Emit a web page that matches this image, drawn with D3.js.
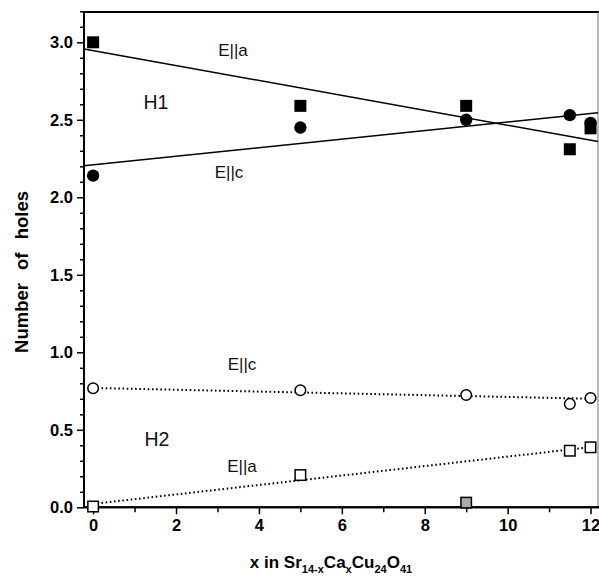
<!DOCTYPE html>
<html><head><meta charset="utf-8">
<script src="https://cdn.jsdelivr.net/npm/d3@7"></script>
<style>
html,body{margin:0;padding:0;background:#fff;}
svg{display:block;}
text{font-family:"Liberation Sans",Arial,Helvetica,sans-serif;}
</style></head>
<body><svg id="c" width="599" height="581"></svg>
<script>
// ---- data ----
const xVals = [0, 5, 9, 11.5, 12];
const h1EllA = [3.00, 2.59, 2.59, 2.31, 2.445];   // filled squares
const h1EllC = [2.14, 2.45, 2.50, 2.53, 2.48];    // filled circles
const h2EllC = [0.768, 0.755, 0.725, 0.667, 0.705]; // open circles
const h2EllAx = [0, 5, 11.5, 12];
const h2EllA = [0.005, 0.208, 0.365, 0.387];      // open squares
const greyX = [9];
const greyY = [0.03];                              // grey square
// linear fits [intercept, slope]
const fitH1A = [2.946, -0.0481];
const fitH1C = [2.210, 0.0276];
const fitH2C = [0.770, -0.0058];
const fitH2A = [0.022, 0.0305];
const xTicks = [0, 2, 4, 6, 8, 10, 12];
const yTicks = [0.0, 0.5, 1.0, 1.5, 2.0, 2.5, 3.0];

const svg = d3.select("#c");
const x = d3.scaleLinear().domain([-0.22, 12.18]).range([84, 598]);
const y = d3.scaleLinear().domain([0, 3.2]).range([507.3, 11.3]);

// frame: top thick, right thin grey
svg.append("line").attr("x1", 84).attr("x2", 599).attr("y1", 12).attr("y2", 12)
  .attr("stroke", "#000").attr("stroke-width", 2);
svg.append("line").attr("x1", 598).attr("x2", 598).attr("y1", 12).attr("y2", 507)
  .attr("stroke", "#777").attr("stroke-width", 1);

// axes
const yMinor = d3.range(0, 3.21, 0.1).filter(v => Math.abs(v*2 - Math.round(v*2)) > 1e-6);
const xMinor = [1, 3, 5, 7, 9, 11];
const gy = svg.append("g").attr("transform", "translate(84,0)");
gy.call(d3.axisLeft(y).tickValues(yTicks).tickFormat(d3.format(".1f")).tickSize(7).tickPadding(4));
gy.append("g").call(d3.axisLeft(y).tickValues(yMinor).tickFormat("").tickSize(4));
const gx = svg.append("g").attr("transform", "translate(0,507.3)");
gx.call(d3.axisBottom(x).tickValues(xTicks).tickFormat(d3.format("d")).tickSize(7).tickPadding(5));
gx.append("g").call(d3.axisBottom(x).tickValues(xMinor).tickFormat("").tickSize(5));
svg.selectAll(".domain").attr("stroke", "#000").attr("stroke-width", 2);
svg.selectAll(".tick line").attr("stroke", "#000").attr("stroke-width", 1.5);
svg.selectAll(".tick text").attr("font-size", 16.5).attr("font-weight", "bold")
  .attr("font-family", "Liberation Sans, Arial, sans-serif").attr("fill", "#000");
gx.selectAll("path.domain").attr("d", `M84,0H599`);
gy.selectAll("path.domain").attr("d", `M0,12V507.3`);

// fit lines
function fitLine(f, x0, x1, dotted) {
  svg.append("line")
    .attr("x1", x(x0)).attr("y1", y(f[0] + f[1]*x0))
    .attr("x2", x(x1)).attr("y2", y(f[0] + f[1]*x1))
    .attr("stroke", "#000")
    .attr("stroke-width", dotted ? 2 : 1.5)
    .attr("stroke-dasharray", dotted ? "1.6,2.6" : null);
}
fitLine(fitH1A, -0.22, 12.18, false);
fitLine(fitH1C, -0.22, 12.18, false);
fitLine(fitH2C, 0, 12, true);
fitLine(fitH2A, 0, 12, true);

// markers
const s = 12;
svg.append("g").selectAll("rect").data(xVals.map((v,i)=>[v,h1EllA[i]])).join("rect")
  .attr("x", d => x(d[0]) - s/2).attr("y", d => y(d[1]) - s/2)
  .attr("width", s).attr("height", s).attr("fill", "#000");
svg.append("g").selectAll("circle").data(xVals.map((v,i)=>[v,h1EllC[i]])).join("circle")
  .attr("cx", d => x(d[0])).attr("cy", d => y(d[1])).attr("r", 6.2).attr("fill", "#000");
svg.append("g").selectAll("circle").data(xVals.map((v,i)=>[v,h2EllC[i]])).join("circle")
  .attr("cx", d => x(d[0])).attr("cy", d => y(d[1])).attr("r", 5.3)
  .attr("fill", "#fff").attr("stroke", "#000").attr("stroke-width", 1.5);
const so = 10.5;
svg.append("g").selectAll("rect").data(h2EllAx.map((v,i)=>[v,h2EllA[i]])).join("rect")
  .attr("x", d => x(d[0]) - so/2).attr("y", d => y(d[1]) - so/2)
  .attr("width", so).attr("height", so)
  .attr("fill", "#fff").attr("stroke", "#000").attr("stroke-width", 1.5);
svg.append("g").selectAll("rect").data(greyX.map((v,i)=>[v,greyY[i]])).join("rect")
  .attr("x", d => x(d[0]) - so/2).attr("y", d => y(d[1]) - so/2)
  .attr("width", so).attr("height", so)
  .attr("fill", "#aaa").attr("stroke", "#000").attr("stroke-width", 1.5);

// annotations
const ann = [
  ["E||a", 233, 56, 17], ["H1", 156, 109, 19.5], ["E||c", 229, 178, 17],
  ["E||c", 242, 370, 17], ["H2", 157, 446, 19.5], ["E||a", 242, 472, 17]
];
svg.append("g").selectAll("text").data(ann).join("text")
  .attr("x", d => d[1]).attr("y", d => d[2]).attr("font-size", d => d[3])
  .attr("text-anchor", "middle").attr("fill", "#111").text(d => d[0]);

// axis titles
svg.append("text").attr("transform", "translate(28,272) rotate(-90)")
  .attr("text-anchor", "middle").attr("font-size", 18.5).attr("font-weight", "bold")
  .attr("word-spacing", 8)
  .text("Number of holes");
const xt = svg.append("text").attr("x", 331).attr("y", 568).attr("text-anchor", "middle")
  .attr("font-size", 17).attr("font-weight", "bold");
const parts = [["x in Sr",0],["14-x",1],["Ca",0],["x",1],["Cu",0],["24",1],["O",0],["41",1]];
parts.forEach((p,i) => {
  const t = xt.append("tspan").text(p[0]);
  if (p[1]) t.attr("font-size", 11).attr("dy", i===0?0:5);
  else if (i>0) t.attr("dy", -5);
});
</script></body></html>
